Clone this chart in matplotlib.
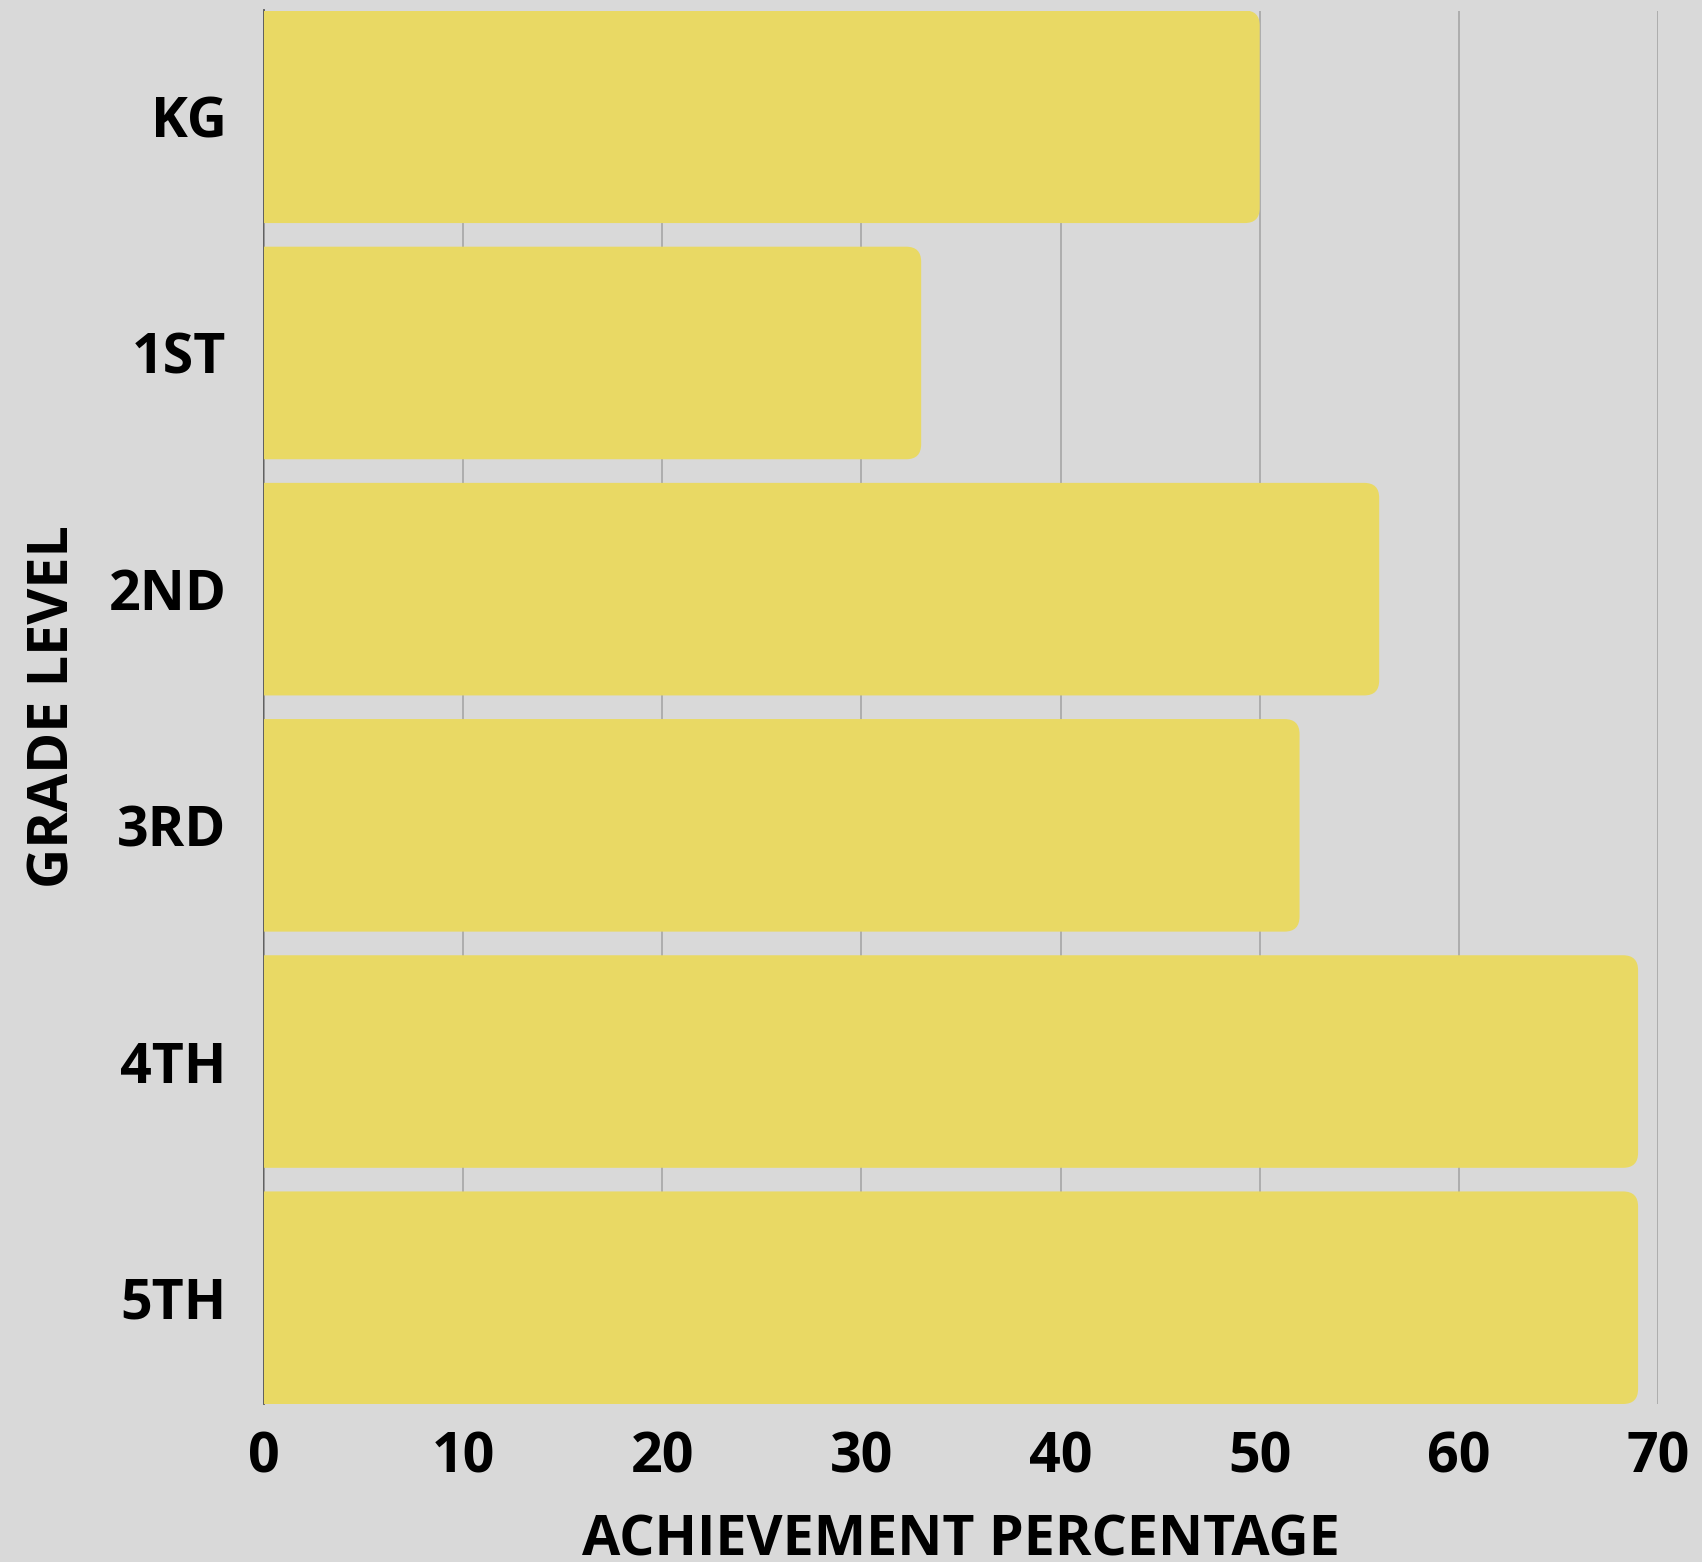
import matplotlib
matplotlib.use("Agg")
import matplotlib.pyplot as plt
from matplotlib.patches import FancyBboxPatch

grades = ["KG", "1ST", "2ND", "3RD", "4TH", "5TH"]
achievement = [50, 33, 56, 52, 69, 69]
x_ticks = [0, 10, 20, 30, 40, 50, 60, 70]
x_label = "ACHIEVEMENT PERCENTAGE"
y_label = "GRADE LEVEL"

BG = "#d9d9d9"
BAR = "#e9d964"
W, H = 1702, 1562
DPI = 100
FS = 40

plt.rcParams["font.family"] = ["Open Sans", "DejaVu Sans"]
plt.rcParams["font.weight"] = "bold"

fig = plt.figure(figsize=(W / DPI, H / DPI), dpi=DPI, facecolor=BG)
ax_l, ax_r, ax_t, ax_b = 264, 1658, 10.5, 1404
ax = fig.add_axes([ax_l / W, 1 - ax_b / H, (ax_r - ax_l) / W, (ax_b - ax_t) / H])
ax.set_facecolor(BG)

ypos = list(range(len(grades)))
bars = ax.barh(ypos, achievement, height=0.9, color=BAR, zorder=2)
ax.set_xlim(0, 70)
ax.set_ylim(len(grades) - 0.55, -0.45)

# round the right-hand corners of each bar
px_per_x = (ax_r - ax_l) / 70.0
px_per_y = (ax_b - ax_t) / (len(grades) - 0.1)
r_px = 15
for b in bars:
    x0, y0, w, h = b.get_x(), b.get_y(), b.get_width(), b.get_height()
    b.set_visible(False)
    r = r_px / px_per_x
    p = FancyBboxPatch((x0 - 2 * r, y0), w + 2 * r, h,
                       boxstyle=f"round,pad=0,rounding_size={r}",
                       mutation_aspect=px_per_x / px_per_y,
                       facecolor=BAR, edgecolor="none", zorder=2)
    ax.add_patch(p)

ax.set_xticks(x_ticks)
ax.set_xticklabels([str(t) for t in x_ticks])
ax.set_yticks(ypos)
ax.set_yticklabels(grades)
ax.tick_params(axis="both", length=0, labelsize=FS, colors="black")
ax.tick_params(axis="x", pad=19)
ax.tick_params(axis="y", pad=27)
for lab in ax.get_xticklabels() + ax.get_yticklabels():
    lab.set_fontweight("bold")

ax.grid(axis="x", color="#a6a6a6", linewidth=1.2, zorder=0)
ax.grid(axis="y", visible=False)
for s in ["top", "right", "bottom"]:
    ax.spines[s].set_visible(False)
ax.spines["left"].set_color("#555555")
ax.spines["left"].set_linewidth(1.3)
ax.spines["left"].set_zorder(1)

ax.set_xlabel(x_label, fontsize=FS, fontweight="bold")
ax.xaxis.set_label_coords(0.5, (ax_b - 1555) / (ax_b - ax_t))
ax.xaxis.label.set_va("baseline")
ax.set_ylabel(y_label, fontsize=FS, fontweight="bold")
ax.yaxis.set_label_coords((68 - ax_l) / (ax_r - ax_l), (ax_b - 706.5) / (ax_b - ax_t))
ax.yaxis.label.set_va("baseline")

fig.savefig("out.png", dpi=DPI, facecolor=BG)
